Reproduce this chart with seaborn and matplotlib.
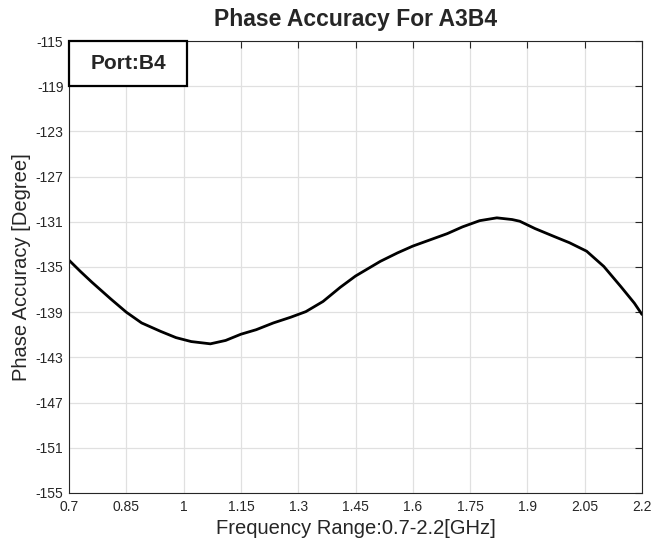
import numpy as np
import pandas as pd
import matplotlib
matplotlib.use("Agg")
import matplotlib.pyplot as plt
from matplotlib.patches import Rectangle
import seaborn as sns

# data
freq_ghz = [0.70, 0.73, 0.76, 0.81, 0.85, 0.89, 0.94, 0.98, 1.02, 1.07, 1.11,
            1.15, 1.19, 1.235, 1.28, 1.30, 1.32, 1.365, 1.41, 1.45, 1.515,
            1.56, 1.60, 1.645, 1.69, 1.73, 1.775, 1.82, 1.86, 1.88, 1.92,
            1.97, 2.01, 2.055, 2.10, 2.145, 2.18, 2.20]
phase_deg = [-134.4, -135.4, -136.35, -137.85, -139.0, -139.95, -140.7, -141.25,
             -141.6, -141.8, -141.5, -140.95, -140.55, -139.95, -139.45,
             -139.2, -138.95, -138.05, -136.8, -135.8, -134.5, -133.75, -133.15,
             -132.6, -132.05, -131.45, -130.9, -130.65, -130.8, -130.95,
             -131.6, -132.3, -132.85, -133.6, -134.95, -136.75, -138.2, -139.2]
x_ticks = [0.7, 0.85, 1, 1.15, 1.3, 1.45, 1.6, 1.75, 1.9, 2.05, 2.2]
x_ticklabels = ["0.7", "0.85", "1", "1.15", "1.3", "1.45", "1.6", "1.75", "1.9", "2.05", "2.2"]
y_ticks = [-155, -151, -147, -143, -139, -135, -131, -127, -123, -119, -115]
y_ticklabels = [str(v) for v in y_ticks]

df = pd.DataFrame({"freq": freq_ghz, "phase": phase_deg})

sns.set_style("whitegrid")
plt.rcParams["font.family"] = ["Liberation Sans", "DejaVu Sans"]
plt.rcParams["axes.unicode_minus"] = False
plt.rcParams["xtick.direction"] = "in"
plt.rcParams["ytick.direction"] = "in"

fig = plt.figure(figsize=(6.65, 5.44), dpi=100)
ax = fig.add_axes([0.1038, 0.0938, 0.8616, 0.8308])

sns.lineplot(data=df, x="freq", y="phase", color="black", linewidth=2.0, ax=ax)

ax.set_xlim(0.7, 2.2)
ax.set_ylim(-155, -115)
ax.set_xticks(x_ticks)
ax.set_xticklabels(x_ticklabels)
ax.set_yticks(y_ticks)
ax.set_yticklabels(y_ticklabels)
ax.tick_params(axis="both", labelsize=10, colors="#262626", length=5, width=0.8,
               top=True, right=True, pad=4)
ax.tick_params(axis="x", pad=5)
ax.grid(True, color="#e0e0e0", linewidth=0.9)
for s in ax.spines.values():
    s.set_color("#262626")
    s.set_linewidth(0.8)

ax.set_xlabel("Frequency Range:0.7-2.2[GHz]", fontsize=14.5, color="#262626", labelpad=4)
ax.set_ylabel("Phase Accuracy [Degree]", fontsize=14.5, color="#262626", labelpad=3)
ax.set_title("Phase Accuracy For A3B4", fontsize=16.5, fontweight="bold", pad=11)

# "Port:B4" label box in the top-left corner
ax.add_patch(Rectangle((0, 1 - 0.0996), 0.206, 0.0996, transform=ax.transAxes,
                       facecolor="white", edgecolor="black", linewidth=1.6,
                       zorder=5, clip_on=False))
ax.text(0.103, 1 - 0.0498, "Port:B4", transform=ax.transAxes, ha="center",
        va="center", fontsize=15, fontweight="bold", zorder=6)

fig.savefig("out.png", dpi=100, facecolor="white")
